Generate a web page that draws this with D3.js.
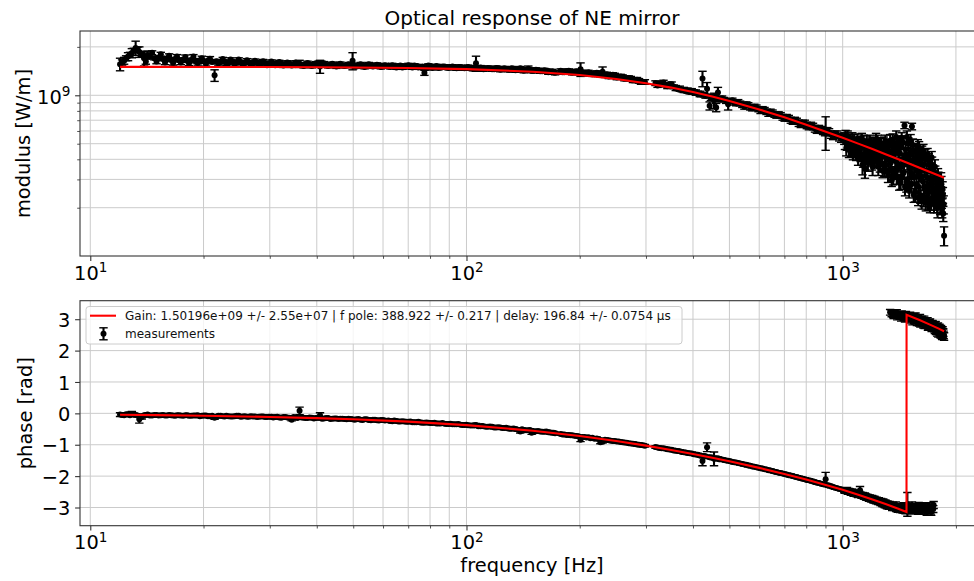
<!DOCTYPE html>
<html><head><meta charset="utf-8">
<script src="https://cdn.jsdelivr.net/npm/d3@7/dist/d3.min.js"></script>
<style>html,body{margin:0;padding:0;background:#fff;} svg{display:block;}</style>
</head><body>
<script>
// ================= DATA =================
const MOD_UNIT = 1e9; // modulus values below are in units of 1e9 W/m

// ---- measurement pass 1 ----
const freqHz = [
  12.0,12.3,12.6,12.9,13.2,13.5,13.9,14.2,14.6,15.0,15.4,15.8,16.2,16.6,17.0,17.4,17.9,18.3,18.8,19.3,19.8,20.3,20.8,21.4,21.9,22.5,23.0,23.6,24.2,24.8,25.4,26.1,26.7,27.4,28.1,28.8,29.5,30.3,31.0,31.8,32.6,33.4,34.3,35.1,36.0,36.9,37.8,38.8,39.8,40.8,41.8,42.9,44.0,45.1,46.2,47.4,48.6,49.8,51.0,52.3,53.6,55.0,56.4,57.8,59.2,60.7,
  62.0,63.5,65.1,66.7,68.4,70.1,71.8,73.6,75.4,77.3,79.2,81.2,83.2,85.3,87.4,89.6,91.8,94.1,96.4,98.8,101,104,106,109,111,114,117,120,123,126,129,132,135,139,142,146,149,153,157,161,165,169,172,
  178,182,187,191,196,201,206,211,216,222,227,230,239,245,251,257,263,270,277,284,291,298,
  318,326,334,342,351,360,369,378,387,397,407,417,424,428,436,443,450,455,461,466,472,484,496,509,521,534,548,561,575,590,605,620,635,651,667,684,701,719,737,755,774,793,813,834,854,876,898,901,920,943,967,991,
  1010,1018,1027,1035,1044,1052,1061,1069,1078,1086,
  1095,1103,1112,1120,1129,1137,1146,1154,1163,1171,
  1180,1188,1197,1205,1214,1222,1231,1239,1248,1256,
  1265,1273,1282,1290,1299,1307,1316,1324,1333,1341,
  1350,1358,1367,1375,1384,1392,1401,1409,1418,1426,
  1435,1443,1452,1460,1469,1477,1486,1494,1503,1511,
  1520,1528,1537,1545,1554,1562,1571,1579,1588,1596,
  1605,1613,1622,1630,1639,1647,1656,1664,1673,1681,
  1690,1698,1707,1715,1724,1732,1741,1749,1758,1766,
  1775,1783,1792,1800,1809,1817,1826,1834,1843,1851,
  1860
];
const modulusE9 = [
  1.56,1.64,1.74,1.83,1.97,1.86,1.70,1.78,1.84,1.62,1.80,1.60,1.76,1.59,1.74,1.60,1.73,1.58,1.74,1.59,1.70,1.57,1.69,1.33,1.58,1.68,1.57,1.67,1.56,1.67,1.56,1.65,1.55,1.64,1.55,1.63,1.54,1.62,1.54,1.61,1.53,1.60,1.53,1.60,1.57,1.52,1.59,1.52,1.58,1.51,1.58,1.52,1.57,1.51,1.57,1.52,1.56,1.64,1.51,1.56,1.50,1.56,1.51,1.55,1.50,1.54,
  1.51,1.54,1.49,1.53,1.50,1.54,1.49,1.52,1.50,1.38,1.53,1.48,1.52,1.49,1.51,1.48,1.51,1.47,1.50,1.47,1.50,1.46,1.58,1.49,1.45,1.48,1.45,1.48,1.44,1.47,1.44,1.47,1.43,1.47,1.42,1.46,1.42,1.44,1.41,1.43,1.39,1.41,1.38,
  1.42,1.39,1.42,1.38,1.41,1.45,1.37,1.39,1.35,1.38,1.34,1.40,1.31,1.34,1.29,1.31,1.27,1.28,1.24,1.25,1.21,1.21,
  1.19,1.17,1.20,1.14,1.17,1.11,1.10,1.08,1.07,1.06,
  1.04,1.02,1.27,1.01,1.10,0.86,0.98,0.93,0.84,1.04,
  0.95,0.94,0.88,0.93,0.89,0.89,0.85,0.87,0.83,0.84,
  0.80,0.81,0.77,0.78,0.75,0.75,0.72,0.72,0.69,0.69,
  0.66,0.67,0.64,0.64,0.61,0.61,0.59,0.595,0.59,0.56,
  0.57,0.54,
  0.54,0.56,0.50,0.53,0.49,0.46,0.54,0.48,0.50,0.43,
  0.53,0.45,0.51,0.47,0.37,0.52,0.35,0.44,0.49,0.40,
  0.52,0.46,0.38,0.50,0.43,0.48,0.39,0.52,0.45,0.37,
  0.50,0.42,0.47,0.35,0.52,0.40,0.45,0.34,0.49,0.38,
  0.296,0.53,0.42,0.33,0.47,0.31,0.51,0.37,0.44,0.29,
  0.54,0.40,0.33,0.65,0.46,0.28,0.38,0.50,0.26,0.43,
  0.33,0.64,0.49,0.24,0.36,0.45,0.28,0.40,0.23,0.47,
  0.32,0.42,0.22,0.37,0.45,0.27,0.40,0.215,0.34,0.43,
  0.25,0.37,0.21,0.30,0.41,0.23,0.33,0.21,0.36,0.26,
  0.30,0.21,0.32,0.24,0.28,0.205,0.30,0.222,0.26,0.184,
  0.134
];
const modulusErrE9 = [
  .14,.08,.10,.12,.20,.14,.18,.10,
  .05,.05,.05,.05,.05,.05,.05,.05,.05,.05,.05,.05,.05,.05,.05,
  .11,
  .04,.04,.04,.04,.04,.04,.04,.04,.04,.04,.04,.04,.04,.04,.04,.04,.04,.04,.04,.04,
  .08,
  .04,.04,.04,.04,
  .14,
  .04,.04,.04,.04,.04,.04,.04,
  .20,
  .04,.04,.04,.04,.04,.04,.04,.04,
  .04,.04,.04,.04,.04,.04,.04,.04,.04,.05,.04,.04,.04,.04,.04,.04,.04,.04,.04,.04,.04,.04,.17,.04,.04,.04,.04,.04,.04,.04,.04,.04,.04,.04,.04,.06,.04,.04,.04,.04,.04,.04,.04,
  .04,.04,.04,.04,.04,.14,.04,.04,.04,.04,.04,.10,.04,.04,.04,.04,.04,.04,.04,.04,.04,.04,
  .04,.04,.04,.04,.04,.04,.04,.04,.04,.04,.04,.04,
  .14,.03,.10,.05,.03,.10,.05,.08,.03,.03,.07,
  .03,.03,.03,.03,.03,.03,.03,.03,.03,.03,.03,.03,.03,.03,.03,.03,.03,.03,.03,.03,.03,.03,.03,.03,
  .14,.03,.03,.03,.03,
  .045,.045,.045,.045,.045,.045,.045,.045,.045,.037,
  .045,.045,.045,.045,.05,.045,.045,.037,.045,.037,
  .045,.045,.037,.045,.037,.045,.037,.045,.045,.037,
  .045,.037,.045,.037,.045,.037,.045,.03,.045,.037,
  .025,.045,.037,.03,.045,.03,.045,.037,.037,.03,
  .045,.037,.03,.03,.045,.03,.037,.045,.03,.037,
  .03,.03,.045,.024,.037,.045,.03,.037,.024,.045,
  .03,.037,.024,.037,.045,.03,.037,.024,.03,.037,
  .03,.037,.024,.03,.037,.024,.03,.024,.037,.03,
  .03,.024,.03,.024,.03,.024,.03,.024,.03,.02,
  .018
];
const phaseRad = [
  -0.04,-0.06,-0.03,-0.02,-0.05,-0.19,-0.06,-0.04,-0.07,-0.05,
  -0.06,-0.07,-0.05,-0.07,-0.06,-0.07,-0.06,-0.08,-0.07,-0.06,
  -0.08,-0.07,-0.09,-0.14,-0.08,-0.09,-0.08,-0.10,-0.09,-0.08,
  -0.10,-0.11,-0.09,-0.10,-0.11,-0.10,-0.12,-0.11,-0.12,-0.13,
  -0.12,-0.13,-0.20,-0.13,0.08,-0.14,-0.15,-0.14,-0.15,-0.07,
  -0.16,-0.15,-0.17,-0.16,-0.17,-0.18,-0.17,-0.19,-0.19,-0.20,
  -0.19,-0.21,-0.20,-0.22,-0.21,-0.23,
  -0.23,-0.25,-0.24,-0.26,-0.26,-0.27,-0.28,-0.28,-0.29,-0.30,
  -0.30,-0.31,-0.32,-0.32,-0.33,-0.34,-0.35,-0.35,-0.36,-0.37,
  -0.38,-0.39,-0.37,-0.41,-0.41,-0.43,-0.43,-0.45,-0.45,-0.47,
  -0.48,-0.49,-0.50,-0.58,-0.53,-0.54,-0.62,-0.57,-0.58,-0.59,
  -0.60,-0.62,-0.63,
  -0.66,-0.67,-0.69,-0.70,-0.72,-0.84,-0.75,-0.76,-0.78,-0.80,-0.92,-0.90,-0.86,-0.88,-0.90,-0.91,-0.93,-0.95,-0.97,-0.99,-1.01,-1.03,
  -1.07,-1.10,-1.11,-1.14,-1.16,-1.19,-1.21,-1.24,-1.26,-1.28,
  -1.31,-1.34,-1.52,-1.36,-1.08,-1.40,-1.41,-1.45,-1.44,-1.43,
  -1.46,-1.49,-1.51,-1.55,-1.57,-1.60,-1.63,-1.66,-1.69,-1.72,
  -1.75,-1.78,-1.81,-1.84,-1.87,-1.90,-1.93,-1.97,-2.00,-2.03,
  -2.07,-2.10,-2.13,-2.17,-2.21,-2.24,-2.27,-2.10,-2.30,-2.35,
  -2.39,-2.42,
  -2.45,-2.47,-2.44,-2.50,-2.49,-2.53,-2.50,-2.56,-2.54,-2.57,
  -2.58,-2.55,-2.45,-2.61,-2.60,-2.64,-2.62,-2.68,-2.66,-2.70,
  -2.68,-2.73,-2.70,-2.76,-2.72,-2.78,-2.75,-2.80,-2.77,-2.83,
  -2.80,-2.86,-2.82,-2.89,-2.85,-2.92,-2.88,-2.95,-2.90,-2.97,
  3.18,-2.93,3.12,-3.00,-2.92,3.20,-3.05,-2.97,3.10,-3.02,
  3.16,-3.08,-2.95,3.05,-3.10,-2.98,-2.90,3.08,-3.05,3.12,
  2.98,-2.92,3.06,-3.10,2.95,3.10,-2.98,3.00,-3.12,2.88,
  3.05,-2.95,2.93,-3.08,2.82,3.00,-3.02,2.86,-3.15,2.95,
  2.78,-2.96,2.90,-3.10,2.72,2.85,-3.05,2.78,2.65,2.82,
  2.70,2.58,2.76,2.62,2.72,2.55,2.68,2.50,2.64,2.57,
  2.45
];
const phaseErrRad = [
  .06,.04,.04,.08,.04,.12,
  .04,.04,.04,.04,.04,.04,.04,.04,.04,.04,.04,.04,.04,.04,.04,.04,.04,
  .05,
  .04,.04,.04,.04,.04,.04,.04,.04,.04,.04,.04,.04,.04,.04,.04,.04,.04,.04,.04,.04,
  .12,
  .04,.04,.04,.04,
  .09,
  .04,.04,.04,.04,.04,.04,.04,.04,.04,.04,.04,.04,.04,.04,.04,.04,
  .04,.04,.04,.04,.04,.04,.04,.04,.04,.04,.04,.04,.04,.04,.04,.04,.04,.04,.04,.04,.04,.04,.05,.04,.04,.04,.04,.04,.04,.04,.04,.04,.04,.05,.04,.04,.05,.04,.04,.04,.04,.04,.04,
  .04,.04,.04,.04,.04,.06,.04,.04,.04,.04,.05,.05,.04,.04,.04,.04,.04,.04,.04,.04,.04,.04,
  .04,.04,.04,.04,.04,.04,.04,.04,.04,.04,.04,.04,
  .15,.04,.14,.04,.04,.22,
  .04,.04,.04,.04,.04,.04,.04,.04,.04,.04,.04,.04,.04,.04,.04,.04,.04,.04,.04,.04,.04,.04,.04,.04,.04,.04,.04,.04,.04,
  .22,.04,.04,.04,.04,
  .08,.08,.08,.08,.08,.08,.08,.08,.08,.08,
  .08,.08,.12,.08,.08,.08,.08,.08,.08,.08,
  .08,.08,.08,.08,.08,.08,.08,.08,.08,.08,
  .09,.09,.09,.09,.09,.09,.09,.09,.09,.09,
  .10,.10,.10,.10,.10,.10,.10,.10,.10,.10,
  .10,.10,.10,.10,.10,.10,.38,.10,.10,.10,
  .10,.10,.10,.10,.10,.10,.10,.10,.10,.10,
  .10,.10,.10,.10,.10,.10,.10,.10,.10,.10,
  .11,.11,.11,.11,.11,.11,.11,.11,.11,.11,
  .12,.12,.12,.12,.12,.12,.12,.12,.12,.12,
  .12
];

// ---- measurement pass 2 (interleaved frequencies) ----
const freqHz2 = [
  12.15,12.45,12.75,13.05,13.35,13.7,14.05,14.4,14.8,15.2,
  15.6,16.0,16.4,16.8,17.2,17.65,18.1,18.55,19.05,19.55,
  20.05,20.55,21.1,21.65,22.2,22.75,23.3,23.9,24.5,25.1,
  25.75,26.4,27.05,27.75,28.45,29.15,29.9,30.65,31.4,32.2,
  33.0,33.85,34.7,35.55,36.45,37.35,38.3,39.3,40.3,41.3,
  42.35,43.45,44.55,45.65,46.8,48.0,49.2,50.4,51.65,52.95,
  54.3,55.7,57.1,58.5,59.95,
  62.75,64.3,65.9,67.55,69.25,70.95,72.7,74.5,76.35,78.25,
  80.2,82.2,84.25,86.35,88.5,90.7,92.95,95.25,97.6,99.9,
  102.5,105,107.5,110,112.5,115.5,118.5,121.5,124.5,127.5,
  130.5,133.5,137,140.5,144,147.5,151,155,159,163,
  167,170.5,
  180,184.5,189,193.5,198.5,203.5,208.5,213.5,219,224.5,233.5,236,242,248,254,260,266.5,273.5,280.5,287.5,294.5,
  322,330,338,346.5,355.5,364.5,373.5,382.5,392,402,
  412,420.5,432,446.5,458,469,478,490,502.5,515,
  527.5,541,554.5,568,582.5,597.5,612.5,627.5,643,659,
  675.5,692.5,710,728,746,764.5,783.5,803,823.5,844,
  865,887,910,931.5,955,979,
  1014,1022.5,1031,1039.5,1048,1056.5,1065,1073.5,1082,1090.5,
  1099,1107.5,1116,1124.5,1133,1141.5,1150,1158.5,1167,1175.5,
  1184,1192.5,1201,1209.5,1218,1226.5,1235,1243.5,1252,1260.5,
  1269,1277.5,1286,1294.5,1303,1311.5,1320,1328.5,1337,1345.5,
  1354,1362.5,1371,1379.5,1388,1396.5,1405,1413.5,1422,1430.5,
  1439,1447.5,1456,1464.5,1473,1481.5,1490,1498.5,1507,1515.5,
  1524,1532.5,1541,1549.5,1558,1566.5,1575,1583.5,1592,1600.5,
  1609,1617.5,1626,1634.5,1643,1651.5,1660,1668.5,1677,1685.5,
  1694,1702.5,1711,1719.5,1728,1736.5,1745,1753.5,1762,1770.5,
  1779,1787.5,1796,1804.5,1813,1821.5,1830,1838.5,1847,1855.5
];
const modulusE9_2 = [
  1.60,1.70,1.79,1.90,1.93,1.80,1.62,1.76,1.70,1.72,
  1.68,1.70,1.66,1.68,1.65,1.67,1.64,1.66,1.63,1.65,
  1.62,1.64,1.61,1.63,1.61,1.62,1.60,1.62,1.60,1.61,
  1.59,1.60,1.58,1.60,1.58,1.59,1.57,1.58,1.56,1.57,
  1.56,1.57,1.55,1.56,1.55,1.56,1.54,1.56,1.54,1.55,
  1.54,1.55,1.53,1.55,1.53,1.54,1.53,1.54,1.52,1.54,
  1.52,1.53,1.52,1.53,1.51,
  1.50,1.52,1.51,1.49,1.52,1.50,1.53,1.49,1.51,1.48,
  1.51,1.50,1.48,1.51,1.49,1.50,1.48,1.50,1.48,1.49,
  1.47,1.49,1.47,1.48,1.46,1.47,1.45,1.47,1.45,1.46,
  1.44,1.46,1.44,1.45,1.43,1.44,1.42,1.43,1.41,1.42,
  1.40,1.39,
  1.39,1.41,1.39,1.40,1.38,1.39,1.36,1.37,1.35,1.36,1.33,1.35,1.32,1.33,1.30,1.30,1.27,1.27,1.24,1.23,1.21,
  1.15,1.19,1.16,1.17,1.13,1.10,1.08,1.07,1.05,1.05,
  1.03,1.01,0.99,0.96,0.97,0.94,0.96,0.92,0.92,0.90,
  0.91,0.87,0.88,0.84,0.85,0.82,0.82,0.79,0.79,0.76,
  0.76,0.73,0.73,0.70,0.70,0.67,0.67,0.65,0.65,0.62,
  0.62,0.60,0.60,0.57,0.57,0.55,
  0.51,0.47,0.55,0.46,0.52,0.50,0.44,0.52,0.46,0.49,
  0.41,0.50,0.43,0.53,0.40,0.47,0.42,0.51,0.38,0.46,
  0.42,0.50,0.36,0.46,0.40,0.53,0.43,0.36,0.49,0.41,
  0.46,0.34,0.50,0.42,0.37,0.48,0.32,0.43,0.52,0.35,
  0.45,0.31,0.49,0.39,0.55,0.35,0.44,0.29,0.48,0.36,
  0.31,0.51,0.38,0.27,0.43,0.55,0.30,0.41,0.35,0.52,
  0.28,0.39,0.45,0.31,0.25,0.41,0.34,0.48,0.27,0.38,
  0.24,0.35,0.44,0.29,0.23,0.34,0.42,0.26,0.31,0.22,
  0.39,0.28,0.34,0.22,0.37,0.26,0.30,0.22,0.33,0.24,
  0.28,0.20,0.30,0.23,0.26,0.21,0.28,0.20,0.24,0.21
];
const modulusErrE9_2 = [
  .06,.06,.06,.06,.06,.06,.06,.06,.04,.04,
  .04,.04,.04,.04,.04,.04,.04,.04,.04,.04,
  .04,.04,.04,.04,.04,.04,.04,.04,.04,.04,
  .04,.04,.04,.04,.04,.04,.04,.04,.04,.04,
  .04,.04,.04,.04,.04,.04,.04,.04,.04,.04,
  .04,.04,.04,.04,.04,.04,.04,.04,.04,.04,
  .04,.04,.04,.04,.04,
  .04,.04,.04,.04,.04,.04,.04,.04,.04,.04,
  .04,.04,.04,.04,.04,.04,.04,.04,.04,.04,
  .04,.04,.04,.04,.04,.04,.04,.04,.04,.04,
  .04,.04,.04,.04,.04,.04,.04,.04,.04,.04,
  .04,.04,
  .04,.04,.04,.04,.04,.04,.04,.04,.04,.04,.04,.04,.04,.04,.04,.04,.04,.04,.04,.04,.04,
  .03,.03,.03,.03,.03,.03,.03,.03,.03,.03,
  .03,.03,.03,.03,.03,.03,.03,.03,.03,.03,
  .03,.03,.03,.03,.03,.03,.03,.03,.03,.03,
  .03,.03,.03,.03,.03,.03,.03,.03,.03,.03,
  .03,.03,.03,.03,.03,.03,
  .05,.05,.05,.05,.05,.05,.043,.05,.05,.05,
  .043,.05,.043,.05,.043,.05,.043,.05,.043,.05,
  .043,.05,.043,.05,.043,.05,.043,.043,.05,.043,
  .05,.033,.05,.043,.043,.05,.033,.043,.05,.043,
  .05,.033,.05,.043,.05,.043,.043,.033,.05,.043,
  .033,.05,.043,.033,.043,.05,.033,.043,.043,.05,
  .033,.043,.05,.033,.033,.043,.033,.05,.033,.043,
  .027,.043,.043,.033,.027,.033,.043,.033,.033,.027,
  .043,.033,.033,.027,.043,.033,.033,.027,.033,.027,
  .033,.027,.033,.027,.033,.027,.033,.027,.027,.027
];
const phaseRad2 = [
  -0.05,-0.03,-0.06,-0.04,-0.07,-0.12,-0.05,-0.07,-0.05,-0.07,
  -0.05,-0.07,-0.06,-0.08,-0.06,-0.08,-0.06,-0.08,-0.07,-0.09,
  -0.07,-0.09,-0.08,-0.10,-0.08,-0.10,-0.09,-0.10,-0.08,-0.11,
  -0.09,-0.11,-0.10,-0.12,-0.10,-0.12,-0.11,-0.13,-0.11,-0.14,
  -0.12,-0.14,-0.12,-0.15,-0.13,-0.15,-0.13,-0.16,-0.14,-0.17,
  -0.15,-0.18,-0.16,-0.18,-0.17,-0.19,-0.18,-0.20,-0.18,-0.21,
  -0.19,-0.22,-0.20,-0.23,-0.21,
  -0.24,-0.23,-0.26,-0.25,-0.27,-0.26,-0.28,-0.27,-0.30,-0.29,
  -0.31,-0.30,-0.32,-0.31,-0.34,-0.33,-0.35,-0.34,-0.37,-0.36,
  -0.39,-0.38,-0.41,-0.40,-0.43,-0.42,-0.45,-0.44,-0.47,-0.46,
  -0.49,-0.48,-0.52,-0.51,-0.54,-0.53,-0.57,-0.56,-0.59,-0.58,
  -0.61,-0.62,
  -0.67,-0.69,-0.70,-0.71,-0.73,-0.75,-0.77,-0.79,-0.81,-0.82,-0.84,-0.85,-0.87,-0.88,-0.90,-0.92,-0.94,-0.96,-0.98,-1.00,-1.02,
  -1.09,-1.11,-1.13,-1.15,-1.18,-1.20,-1.23,-1.25,-1.27,-1.30,
  -1.32,-1.35,-1.37,-1.41,-1.43,-1.46,-1.47,-1.50,-1.53,-1.56,
  -1.58,-1.61,-1.64,-1.67,-1.70,-1.73,-1.76,-1.79,-1.82,-1.86,
  -1.89,-1.92,-1.95,-1.98,-2.02,-2.05,-2.08,-2.12,-2.15,-2.19,
  -2.22,-2.26,-2.29,-2.33,-2.37,-2.41,
  -2.47,-2.45,-2.49,-2.47,-2.51,-2.50,-2.53,-2.52,-2.56,-2.55,
  -2.60,-2.57,-2.59,-2.63,-2.61,-2.66,-2.64,-2.69,-2.67,-2.72,
  -2.70,-2.75,-2.72,-2.78,-2.75,-2.80,-2.78,-2.83,-2.80,-2.86,
  -2.83,-2.89,-2.86,-2.92,-2.88,-2.95,-2.91,-2.97,3.22,-2.94,
  -3.00,3.15,-2.96,3.19,-3.03,3.08,-2.99,3.14,-3.06,3.04,
  -3.01,3.11,-3.08,3.01,3.15,-3.04,3.06,-2.96,3.10,-3.10,
  3.03,2.92,-3.00,3.08,2.97,-3.06,2.90,3.04,-2.94,2.96,
  2.85,-3.12,3.00,2.90,-2.98,2.80,2.94,-3.08,2.84,2.75,
  -3.00,2.88,2.80,-3.14,2.74,2.83,-2.92,2.70,2.80,2.62,
  2.74,2.66,2.55,2.69,2.60,2.52,2.62,2.47,2.58,2.50
];
const phaseErrRad2 = [
  .04,.04,.04,.04,.04,.06,.04,.04,.04,.04,
  .04,.04,.04,.04,.04,.04,.04,.04,.04,.04,
  .04,.04,.04,.04,.04,.04,.04,.04,.04,.04,
  .04,.04,.04,.04,.04,.04,.04,.04,.04,.04,
  .04,.04,.04,.04,.04,.04,.04,.04,.04,.04,
  .04,.04,.04,.04,.04,.04,.04,.04,.04,.04,
  .04,.04,.04,.04,.04,
  .04,.04,.04,.04,.04,.04,.04,.04,.04,.04,
  .04,.04,.04,.04,.04,.04,.04,.04,.04,.04,
  .04,.04,.04,.04,.04,.04,.04,.04,.04,.04,
  .04,.04,.04,.04,.04,.04,.04,.04,.04,.04,
  .04,.04,
  .04,.04,.04,.04,.04,.04,.04,.04,.04,.04,.04,.04,.04,.04,.04,.04,.04,.04,.04,.04,.04,
  .04,.04,.04,.04,.04,.04,.04,.04,.04,.04,
  .04,.04,.04,.04,.04,.04,.04,.04,.04,.04,
  .04,.04,.04,.04,.04,.04,.04,.04,.04,.04,
  .04,.04,.04,.04,.04,.04,.04,.04,.04,.04,
  .04,.04,.04,.04,.04,.04,
  .08,.08,.08,.08,.08,.08,.08,.08,.08,.08,
  .08,.08,.08,.08,.08,.08,.08,.08,.08,.08,
  .08,.08,.08,.08,.08,.08,.08,.08,.08,.08,
  .09,.09,.09,.09,.09,.09,.09,.09,.09,.09,
  .10,.10,.10,.10,.10,.10,.10,.10,.10,.10,
  .10,.10,.10,.10,.10,.10,.10,.10,.10,.10,
  .10,.10,.10,.10,.10,.10,.10,.10,.10,.10,
  .10,.10,.10,.10,.10,.10,.10,.10,.10,.10,
  .11,.11,.11,.11,.11,.11,.11,.11,.11,.11,
  .12,.12,.12,.12,.12,.12,.12,.12,.12,.12
];

// fitted model curve
const fitFreqHz    = [12,15,20,30,40,50,70,100,150,200,250,300,350,400,450,500,600,700,800,1000,1100,1200,1300,1400,1450,1478,1478.5,1600,1700,1800,1860];
const fitModulusE9 = [1.5013,1.5009,1.5000,1.4976,1.4941,1.4898,1.4782,1.4547,1.4014,1.3357,1.2634,1.1893,1.1164,1.0470,0.9821,0.9221,0.8169,0.7294,0.6567,0.5444,0.5006,0.4631,0.4305,0.4020,0.3891,0.3822,0.3821,0.3548,0.3350,0.3172,0.3074];
const fitPhaseRad  = [-0.0457,-0.0571,-0.0761,-0.1141,-0.1520,-0.1897,-0.2647,-0.3754,-0.5537,-0.7220,-0.8802,-1.0282,-1.1657,-1.2942,-1.4143,-1.5279,-1.7376,-1.9294,-2.1077,-2.4368,-2.5911,-2.7415,-2.8882,-3.0313,-3.1025,-3.141,3.141,2.9719,2.8348,2.6990,2.6181];

// ticks / texts
const xTickValues = [10,100,1000];
const xTickBase = ["10","10","10"];
const xTickExp  = ["1","2","3"];
const modTickValues = [1e9];
const modTickBase = ["10"];
const modTickExp  = ["9"];
const phaseTickValues = [-3,-2,-1,0,1,2,3];
const phaseTickLabels = ["\u22123","\u22122","\u22121","0","1","2","3"];
const titleText = "Optical response of NE mirror";
const yLabelTop = "modulus [W/m]";
const yLabelBottom = "phase [rad]";
const xLabel = "frequency [Hz]";
const legendFitText = "Gain: 1.50196e+09 +/- 2.55e+07 | f pole: 388.922 +/- 0.217 | delay: 196.84 +/- 0.0754 \u00b5s";
const legendDataText = "measurements";

// ================= LAYOUT =================
const W = 974, H = 581;
const X0 = 80, X1 = 984;
const TOP = {t: 31, b: 256}, BOT = {t: 300.7, b: 525.7};
const FONT = "'DejaVu Sans', 'Liberation Sans', sans-serif";
const GRID = "#cbcbcb", SPINE = "#333", INK = "#000", RED = "#ff0000";
const MARKER_R = 3.0;

const svg = d3.select("body").append("svg").attr("width", W).attr("height", H).attr("font-family", FONT);
svg.append("rect").attr("width", W).attr("height", H).attr("fill", "#fff");

const x = d3.scaleLog().domain([9.39, 2375]).range([X0, X1]);
const yMod = d3.scaleLog().domain([0.1002 * MOD_UNIT, 2.51 * MOD_UNIT]).range([TOP.b, TOP.t]);
const yPh = d3.scaleLinear().domain([-3.58, 3.59]).range([BOT.b, BOT.t]);

function makePts(f, m, me, p, pe) {
  const n = Math.min(f.length, m.length, me.length, p.length, pe.length);
  return d3.range(n).map(i => ({f: f[i], m: m[i] * MOD_UNIT, me: me[i] * MOD_UNIT, p: p[i], pe: pe[i]}));
}
const pts = makePts(freqHz, modulusE9, modulusErrE9, phaseRad, phaseErrRad)
  .concat(makePts(freqHz2, modulusE9_2, modulusErrE9_2, phaseRad2, phaseErrRad2));
const fitPts = fitFreqHz.map((f, i) => ({f, m: fitModulusE9[i] * MOD_UNIT, p: fitPhaseRad[i]}));

const xGridTicks = x.ticks();
const xMinor = xGridTicks.filter(d => !xTickValues.includes(d));

function grid(box, yScale, yGrid) {
  const g = svg.append("g");
  g.selectAll("line.gx").data(xGridTicks).join("line")
    .attr("x1", d => x(d)).attr("x2", d => x(d)).attr("y1", box.t).attr("y2", box.b)
    .attr("stroke", GRID).attr("stroke-width", 1);
  g.selectAll("line.gy").data(yGrid).join("line")
    .attr("x1", X0).attr("x2", X1).attr("y1", d => yScale(d)).attr("y2", d => yScale(d))
    .attr("stroke", GRID).attr("stroke-width", 1);
}
function clip(id, box) {
  svg.append("clipPath").attr("id", id).append("rect")
    .attr("x", X0).attr("y", box.t).attr("width", X1 - X0).attr("height", box.b - box.t);
}
function errorbars(id, yScale, val, err) {
  const g = svg.append("g").attr("clip-path", `url(#${id})`);
  g.selectAll("line.eb").data(pts).join("line")
    .attr("x1", d => x(d.f)).attr("x2", d => x(d.f))
    .attr("y1", d => yScale(val(d) - err(d))).attr("y2", d => yScale(val(d) + err(d)))
    .attr("stroke", INK).attr("stroke-width", 2.1);
  [1, -1].forEach(s => {
    g.append("g").selectAll("line").data(pts).join("line")
      .attr("x1", d => x(d.f) - 4.2).attr("x2", d => x(d.f) + 4.2)
      .attr("y1", d => yScale(val(d) + s * err(d))).attr("y2", d => yScale(val(d) + s * err(d)))
      .attr("stroke", INK).attr("stroke-width", 1.4);
  });
  g.append("g").selectAll("circle").data(pts).join("circle")
    .attr("cx", d => x(d.f)).attr("cy", d => yScale(val(d))).attr("r", MARKER_R).attr("fill", INK);
}
function fitLine(id, yScale, val) {
  svg.append("g").attr("clip-path", `url(#${id})`).append("path")
    .datum(fitPts)
    .attr("d", d3.line().x(d => x(d.f)).y(d => yScale(val(d))))
    .attr("fill", "none").attr("stroke", RED).attr("stroke-width", 2.1);
}
function spines(box) {
  svg.append("rect").attr("x", X0).attr("y", box.t).attr("width", X1 - X0).attr("height", box.b - box.t)
    .attr("fill", "none").attr("stroke", SPINE).attr("stroke-width", 1.1);
}
function cleanAxis(a, w) {
  a.attr("font-family", null).attr("font-size", null);
  a.select(".domain").remove();
  a.selectAll(".tick text").remove();
  a.selectAll(".tick line").attr("stroke", SPINE).attr("stroke-width", w);
}
function xAxis(box) {
  const gMin = svg.append("g").attr("transform", `translate(0,${box.b})`)
    .call(d3.axisBottom(x).tickValues(xMinor).tickSize(2.8).tickFormat(""));
  cleanAxis(gMin, 0.85);
  const gMaj = svg.append("g").attr("transform", `translate(0,${box.b})`)
    .call(d3.axisBottom(x).tickValues(xTickValues).tickSize(4.9).tickFormat(""));
  cleanAxis(gMaj, 1.1);
  gMaj.selectAll(".tick").each(function(d, i) {
    const t = d3.select(this).append("text").attr("y", 23.5).attr("text-anchor", "middle")
      .attr("fill", INK).attr("font-size", 19.4).attr("font-family", FONT);
    t.append("tspan").text(xTickBase[i]);
    t.append("tspan").attr("dy", -7.3).attr("font-size", 13.6).text(xTickExp[i]);
  });
}

clip("clipTop", TOP);
clip("clipBot", BOT);
grid(TOP, yMod, yMod.ticks());
grid(BOT, yPh, phaseTickValues);

errorbars("clipTop", yMod, d => d.m, d => d.me);
errorbars("clipBot", yPh, d => d.p, d => d.pe);
fitLine("clipTop", yMod, d => d.m);
fitLine("clipBot", yPh, d => d.p);

spines(TOP);
spines(BOT);
xAxis(TOP);
xAxis(BOT);

{
  const minorVals = yMod.ticks().filter(d => !modTickValues.includes(d));
  const gMin = svg.append("g").attr("transform", `translate(${X0},0)`)
    .call(d3.axisLeft(yMod).tickValues(minorVals).tickSize(2.8).tickFormat(""));
  cleanAxis(gMin, 0.85);
  const gMaj = svg.append("g").attr("transform", `translate(${X0},0)`)
    .call(d3.axisLeft(yMod).tickValues(modTickValues).tickSize(4.9).tickFormat(""));
  cleanAxis(gMaj, 1.1);
  gMaj.selectAll(".tick").each(function(d, i) {
    const t = d3.select(this).append("text").attr("x", -9.6).attr("y", 7.8).attr("text-anchor", "end")
      .attr("fill", INK).attr("font-size", 19.4).attr("font-family", FONT);
    t.append("tspan").text(modTickBase[i]);
    t.append("tspan").attr("dy", -7.3).attr("font-size", 13.6).text(modTickExp[i]);
  });
}
{
  const g = svg.append("g").attr("transform", `translate(${X0},0)`)
    .call(d3.axisLeft(yPh).tickValues(phaseTickValues).tickSize(4.9).tickFormat(""));
  cleanAxis(g, 1.1);
  g.selectAll(".tick").append("text").attr("x", -9.6).attr("y", 7.2).attr("text-anchor", "end")
    .attr("fill", INK).attr("font-size", 19.4).attr("font-family", FONT)
    .text((d, i) => phaseTickLabels[i]);
}

svg.append("text").attr("x", 532).attr("y", 25.2).attr("text-anchor", "middle")
  .attr("font-size", 20).attr("fill", INK).text(titleText);
svg.append("text").attr("transform", `translate(29.5,${(TOP.t + TOP.b) / 2}) rotate(-90)`)
  .attr("text-anchor", "middle").attr("font-size", 19.4).attr("fill", INK).text(yLabelTop);
svg.append("text").attr("transform", `translate(31.5,${(BOT.t + BOT.b) / 2}) rotate(-90)`)
  .attr("text-anchor", "middle").attr("font-size", 19.4).attr("fill", INK).text(yLabelBottom);
svg.append("text").attr("x", 532).attr("y", 571.5).attr("text-anchor", "middle")
  .attr("font-size", 19.4).attr("fill", INK).text(xLabel);

{
  const lg = svg.append("g");
  lg.append("rect").attr("x", 86).attr("y", 306.5).attr("width", 596).attr("height", 37.5).attr("rx", 3)
    .attr("fill", "#fff").attr("fill-opacity", 0.8).attr("stroke", "#cccccc").attr("stroke-width", 1);
  lg.append("line").attr("x1", 90).attr("x2", 116).attr("y1", 315.7).attr("y2", 315.7)
    .attr("stroke", RED).attr("stroke-width", 2.1);
  const hx = 103.5, hy = 333.8;
  lg.append("line").attr("x1", hx).attr("x2", hx).attr("y1", hy - 6).attr("y2", hy + 6).attr("stroke", INK).attr("stroke-width", 2.1);
  [-6, 6].forEach(o => lg.append("line").attr("x1", hx - 4.2).attr("x2", hx + 4.2).attr("y1", hy + o).attr("y2", hy + o)
    .attr("stroke", INK).attr("stroke-width", 1.4));
  lg.append("circle").attr("cx", hx).attr("cy", hy).attr("r", MARKER_R).attr("fill", INK);
  lg.append("text").attr("x", 125).attr("y", 320).attr("font-size", 12).attr("fill", "#111").text(legendFitText);
  lg.append("text").attr("x", 125).attr("y", 337.8).attr("font-size", 12).attr("fill", "#111").text(legendDataText);
}
</script>
</body></html>
